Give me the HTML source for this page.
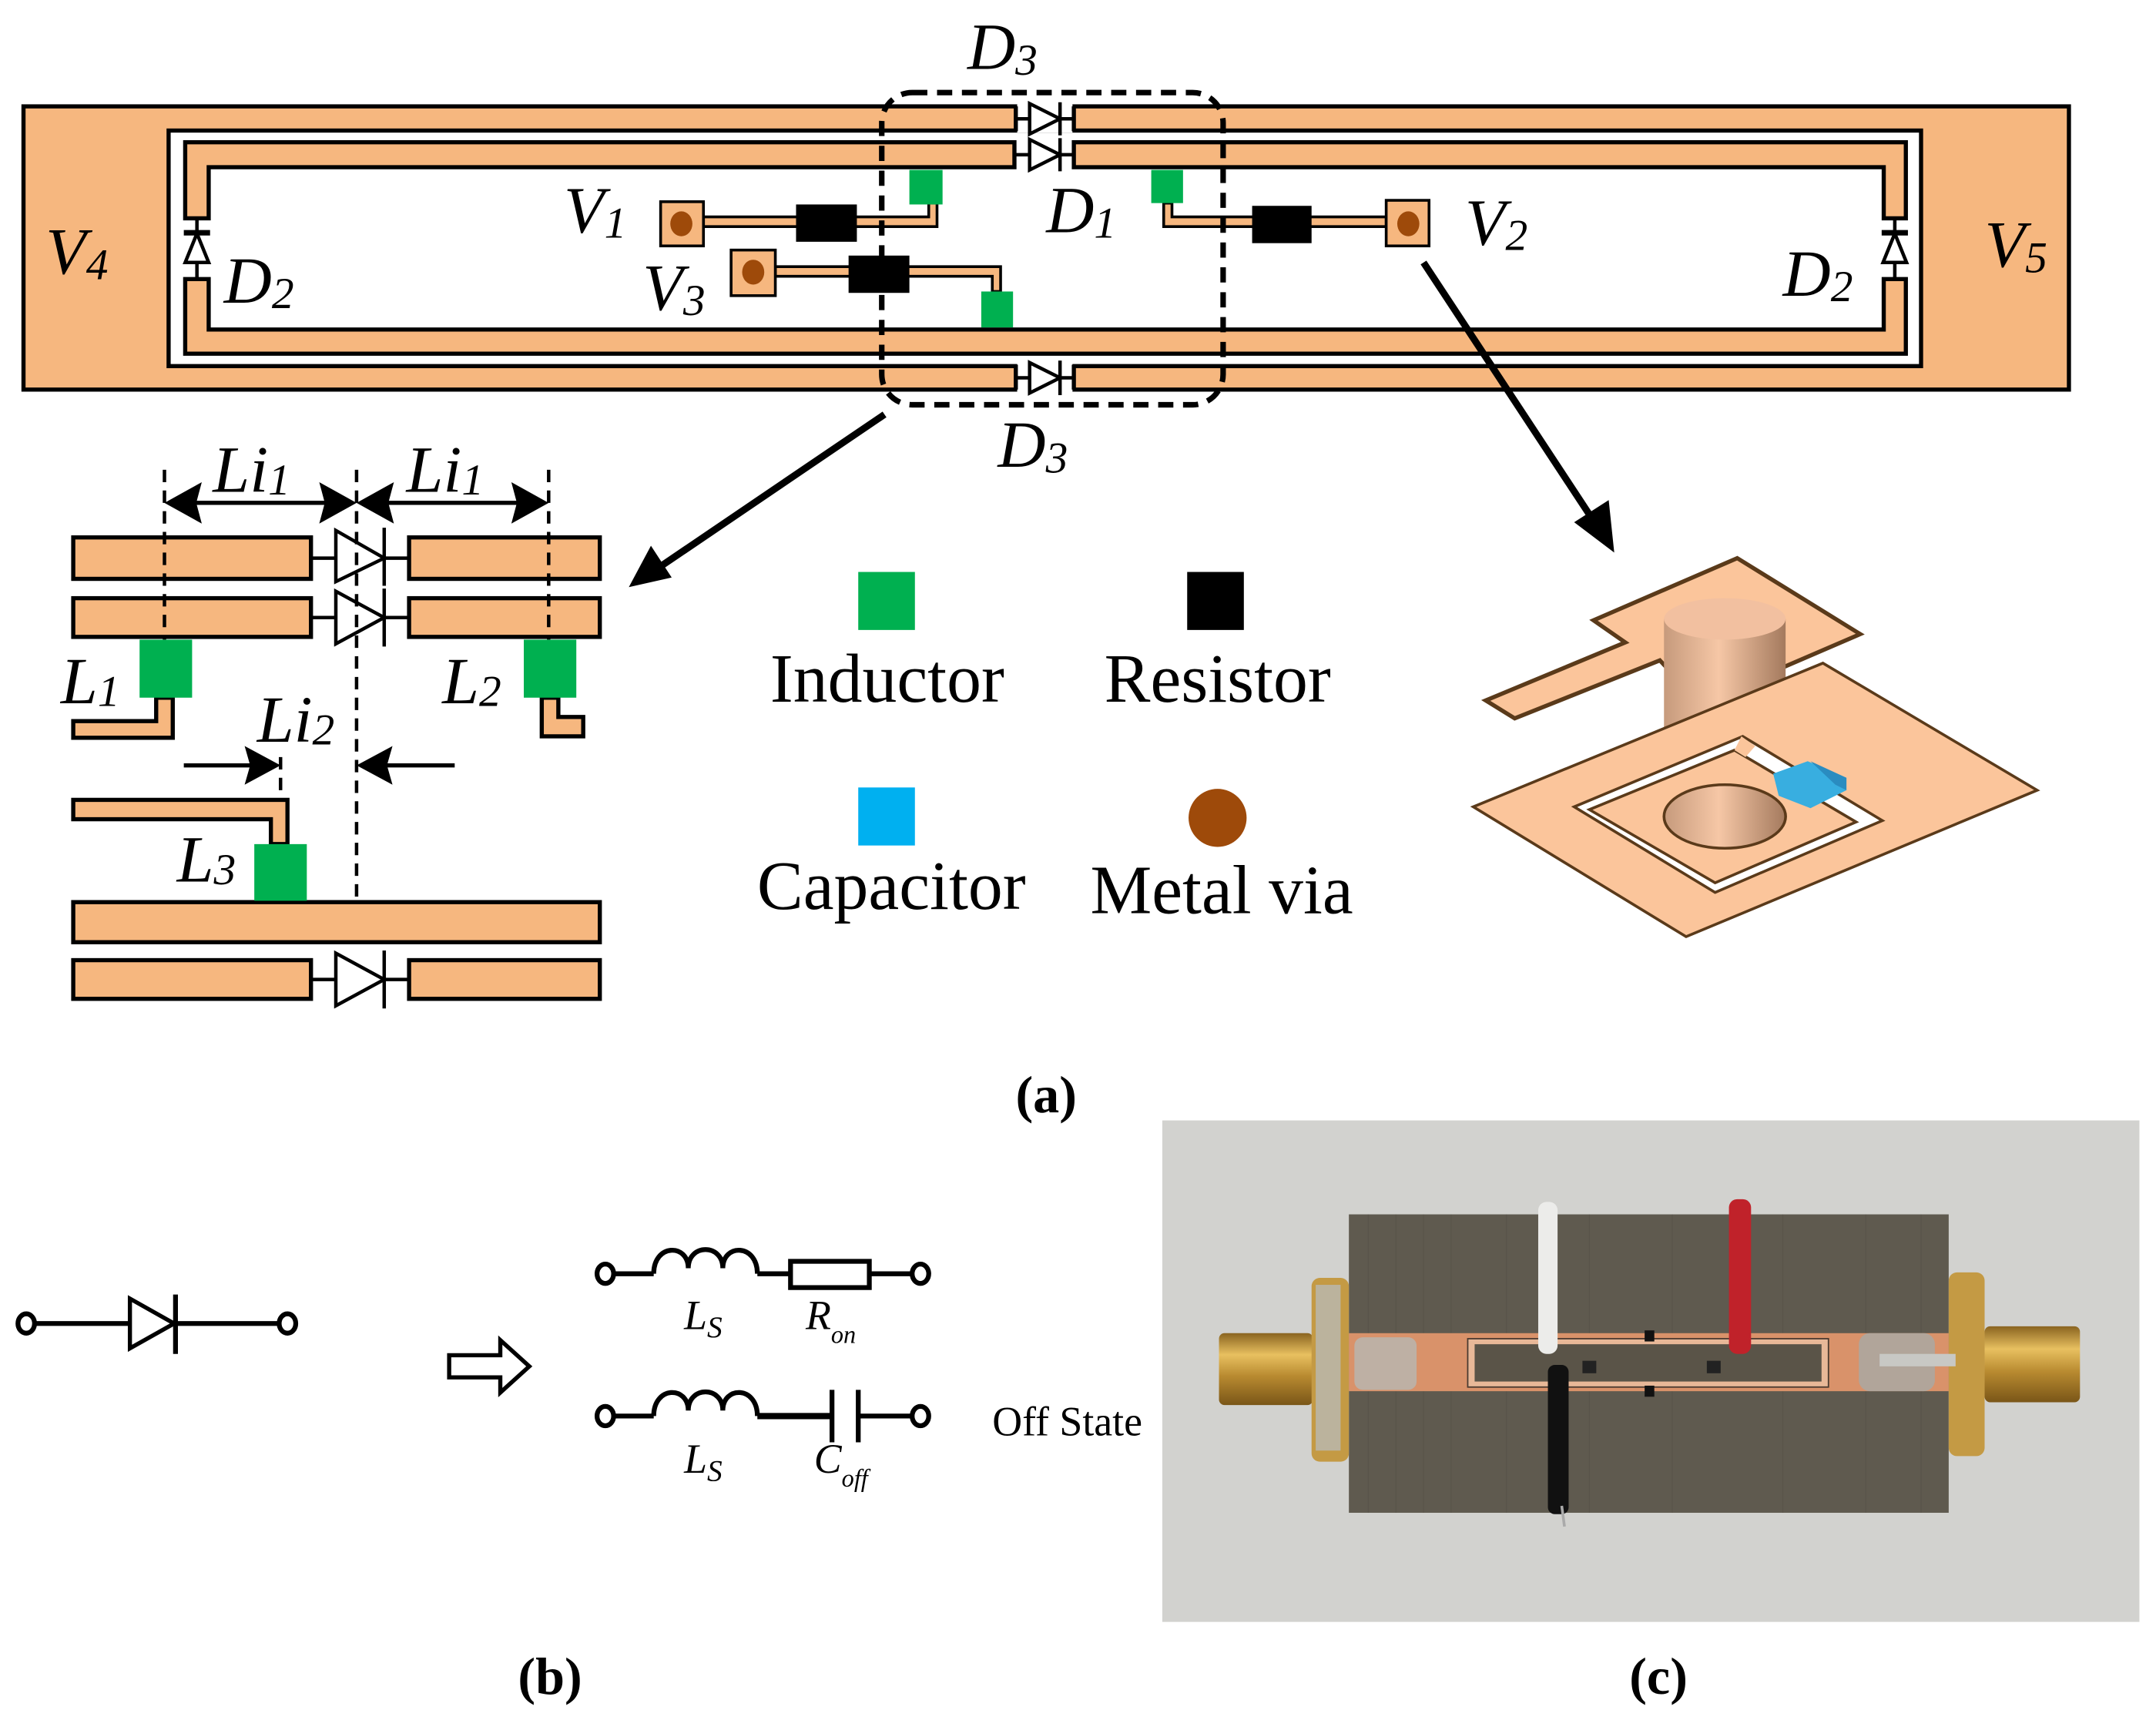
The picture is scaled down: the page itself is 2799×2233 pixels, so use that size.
<!DOCTYPE html>
<html><head><meta charset="utf-8"><style>
html,body{margin:0;padding:0;background:#fff;}
svg{display:block;}
text{font-family:"Liberation Serif","Times New Roman",serif;}
.it{font-style:italic;}
</style></head><body>
<svg width="2799" height="2233" viewBox="0 0 1560 1245" preserveAspectRatio="none" xmlns="http://www.w3.org/2000/svg" font-family="Liberation Serif, Times New Roman, serif">
<defs>
<linearGradient id="cyl" x1="0" x2="1" y1="0" y2="0">
<stop offset="0" stop-color="#c69a7c"/><stop offset="0.45" stop-color="#f6c7a6"/><stop offset="1" stop-color="#a47a5e"/>
</linearGradient>
<linearGradient id="gold" x1="0" x2="0" y1="0" y2="1">
<stop offset="0" stop-color="#8a6420"/><stop offset="0.3" stop-color="#e8c060"/><stop offset="0.6" stop-color="#b88a30"/><stop offset="1" stop-color="#7a5618"/>
</linearGradient>
</defs>

<!-- ===== TOP BOARD ===== -->
<g stroke="#000" stroke-width="3">
<rect x="17" y="77" width="1480" height="205" fill="#F6B77F"/>
<rect x="122" y="94.5" width="1268" height="170.5" fill="#fff"/>
</g>
<rect x="736" y="74" width="40" height="22" fill="#fff"/>
<rect x="736" y="263" width="40" height="22" fill="#fff"/>
<g stroke="#000" stroke-width="3">
<line x1="735" y1="77" x2="735" y2="95"/><line x1="777" y1="77" x2="777" y2="95"/>
<line x1="735" y1="264" x2="735" y2="282"/><line x1="777" y1="264" x2="777" y2="282"/>
</g>
<g stroke="#000" stroke-width="3" fill="#F6B77F">
<polygon points="734,103 134,103 134,158 151,158 151,121 734,121"/>
<polygon points="777,103 1379,103 1379,158 1363,158 1363,121 777,121"/>
<polygon points="134,202 151,202 151,238.5 1363,238.5 1363,202 1379,202 1379,256 134,256"/>
</g>
<g stroke="#000" stroke-width="2.5" fill="#fff">
<line x1="142.5" y1="158" x2="142.5" y2="202"/>
<line x1="133" y1="168.5" x2="152" y2="168.5" stroke-width="4"/>
<polygon points="142.5,169 134,190 151,190"/>
<line x1="1371" y1="158" x2="1371" y2="202"/>
<line x1="1361.5" y1="168.5" x2="1380.5" y2="168.5" stroke-width="4"/>
<polygon points="1371,169 1362.5,190 1379.5,190"/>
</g>
<g stroke="#000" stroke-width="2.5" fill="#fff">
<line x1="735" y1="86" x2="777" y2="86"/><polygon points="745,75 745,97 767,86"/><line x1="767" y1="74" x2="767" y2="98"/>
<line x1="735" y1="112" x2="777" y2="112"/><polygon points="745,101 745,123 767,112"/><line x1="767" y1="100" x2="767" y2="124"/>
<line x1="735" y1="273.5" x2="777" y2="273.5"/><polygon points="745,262.5 745,284.5 767,273.5"/><line x1="767" y1="261" x2="767" y2="286"/>
</g>
<g stroke="#000" stroke-width="2" fill="#F6B77F">
<polygon points="509,157 672,157 672,147 678,147 678,164 509,164"/>
<polygon points="561,193 724,193 724,211 718,211 718,200 561,200"/>
<polygon points="842,147 848,147 848,157 1003,157 1003,164 842,164"/>
<rect x="478" y="146" width="31" height="32"/>
<rect x="529" y="181" width="32" height="33"/>
<rect x="1003" y="145" width="31" height="33"/>
</g>
<g fill="#9E4A0A">
<ellipse cx="493" cy="162" rx="8" ry="9"/>
<ellipse cx="545" cy="197" rx="8" ry="9"/>
<ellipse cx="1019" cy="162" rx="8" ry="9"/>
</g>
<g fill="#000">
<rect x="576" y="148" width="44" height="27"/>
<rect x="614" y="185" width="44" height="27"/>
<rect x="906" y="149" width="43" height="27"/>
</g>
<g fill="#00B050">
<rect x="658" y="123" width="24" height="25"/>
<rect x="833" y="123" width="23" height="24"/>
<rect x="710" y="211" width="23" height="26"/>
</g>
<rect x="638" y="67" width="247" height="226" rx="22" ry="22" fill="none" stroke="#000" stroke-width="4" stroke-dasharray="11 7"/>

<g class="it" font-size="48" font-style="italic">
<text x="700" y="50">D<tspan font-size="32" dy="4">3</tspan></text>
<text x="722" y="338">D<tspan font-size="32" dy="4">3</tspan></text>
<text x="757" y="168">D<tspan font-size="32" dy="4">1</tspan></text>
<text x="162" y="219">D<tspan font-size="32" dy="4">2</tspan></text>
<text x="1290" y="214">D<tspan font-size="32" dy="4">2</tspan></text>
<text x="408" y="168">V<tspan font-size="32" dy="4">1</tspan></text>
<text x="1060" y="177">V<tspan font-size="32" dy="4">2</tspan></text>
<text x="465" y="224">V<tspan font-size="32" dy="4">3</tspan></text>
<text x="33" y="198">V<tspan font-size="32" dy="4">4</tspan></text>
<text x="1436" y="193">V<tspan font-size="32" dy="4">5</tspan></text>
</g>

<g stroke="#000" stroke-width="5">
<line x1="1030" y1="190" x2="1155" y2="380"/>
<line x1="640" y1="300" x2="475" y2="412"/>
</g>
<polygon points="1168,400 1139,378 1164,362" fill="#000"/>
<polygon points="455,425 471,395 486,418" fill="#000"/>

<!-- ===== ZOOM DETAIL ===== -->
<g stroke="#000" stroke-width="3" fill="#F6B77F">
<rect x="53" y="389" width="172" height="30"/>
<rect x="296" y="389" width="138" height="30"/>
<rect x="53" y="433" width="172" height="28"/>
<rect x="296" y="433" width="138" height="28"/>
<polygon points="113,505 125,505 125,534 53,534 53,522 113,522"/>
<polygon points="392,505 404,505 404,519 422,519 422,533 392,533"/>
<polygon points="53,579 208,579 208,611 196,611 196,593 53,593"/>
<rect x="53" y="653" width="381" height="29"/>
<rect x="53" y="695" width="172" height="28"/>
<rect x="296" y="695" width="138" height="28"/>
</g>
<g stroke="#000" stroke-width="2.5" fill="#fff">
<line x1="225" y1="404" x2="296" y2="404"/><polygon points="243,384 243,421 278,404"/><line x1="278" y1="382" x2="278" y2="424"/>
<line x1="225" y1="447" x2="296" y2="447"/><polygon points="243,428 243,466 278,447"/><line x1="278" y1="426" x2="278" y2="468"/>
<line x1="225" y1="709" x2="296" y2="709"/><polygon points="243,690 243,728 278,709"/><line x1="278" y1="688" x2="278" y2="730"/>
</g>
<g fill="#00B050">
<rect x="101" y="463" width="38" height="42"/>
<rect x="379" y="463" width="38" height="42"/>
<rect x="184" y="611" width="38" height="41"/>
</g>
<g stroke="#000" stroke-width="2.5" stroke-dasharray="9 6" fill="none">
<line x1="119" y1="340" x2="119" y2="463"/>
<line x1="258" y1="340" x2="258" y2="652"/>
<line x1="397" y1="340" x2="397" y2="463"/>
<line x1="203" y1="548" x2="203" y2="579"/>
</g>
<g stroke="#000" stroke-width="3">
<line x1="130" y1="364" x2="247" y2="364"/>
<line x1="270" y1="364" x2="386" y2="364"/>
<line x1="133" y1="554" x2="195" y2="554"/>
<line x1="268" y1="554" x2="329" y2="554"/>
</g>
<g fill="#000">
<polygon points="119,364 146,349 142,364 146,379"/>
<polygon points="258,364 231,349 235,364 231,379"/>
<polygon points="258,364 285,349 281,364 285,379"/>
<polygon points="397,364 370,349 374,364 370,379"/>
<polygon points="203,554 177,540 181,554 177,568"/>
<polygon points="258,554 284,540 280,554 284,568"/>
</g>
<g class="it" font-size="48" font-style="italic">
<text x="154" y="356">Li<tspan font-size="32" dy="2">1</tspan></text>
<text x="294" y="356">Li<tspan font-size="32" dy="2">1</tspan></text>
<text x="186" y="537">Li<tspan font-size="32" dy="2">2</tspan></text>
<text x="44" y="509">L<tspan font-size="32" dy="2">1</tspan></text>
<text x="320" y="509">L<tspan font-size="32" dy="2">2</tspan></text>
<text x="128" y="638">L<tspan font-size="32" dy="2">3</tspan></text>
</g>

<!-- ===== LEGEND ===== -->
<rect x="621" y="414" width="41" height="42" fill="#00B050"/>
<rect x="859" y="414" width="41" height="42" fill="#000"/>
<rect x="621" y="570" width="41" height="42" fill="#00B0F0"/>
<circle cx="881" cy="592" r="21" fill="#9E4A0A"/>
<g font-size="50" text-anchor="middle">
<text x="642" y="508">Inductor</text>
<text x="881" y="508">Resistor</text>
<text x="645" y="658">Capacitor</text>
<text x="884" y="661">Metal via</text>
</g>

<!-- ===== 3D VIA ===== -->
<g stroke="#5a3a1a" stroke-width="2">
<polygon points="1257,404 1346,459 1230,509 1201,478 1096,520 1075,507 1176,465 1153,449" fill="#FBC59B" stroke-width="3"/>
<rect x="1204" y="448" width="88" height="120" fill="url(#cyl)" stroke="none"/>
<ellipse cx="1248" cy="448" rx="44" ry="15" fill="#f2c0a0" stroke="none"/>
<polygon points="1319,480 1474,572 1220,678 1066,584" fill="#FBC59B"/>
<polygon points="1261,533 1362,594 1241,646 1139,584" fill="#fff"/>
<polygon points="1255,543 1343,595 1241,639 1150,586" fill="#FBC59B"/>
<polygon points="1260,533 1270,540 1263,548 1255,543" fill="#FBC59B" stroke="none"/>
<ellipse cx="1248" cy="591" rx="44" ry="23" fill="url(#cyl)"/>
</g>
<polygon points="1283,560 1308,551 1336,563 1336,572 1310,585 1287,576" fill="#38AEE0"/>
<polygon points="1310,551 1336,563 1336,572 1328,568" fill="#2a8cc0"/>

<text x="757" y="805" font-size="38" text-anchor="middle" font-weight="bold">(a)</text>

<!-- ===== (b) circuit ===== -->
<g stroke="#000" stroke-width="3.5" fill="#fff">
<line x1="25" y1="958" x2="203" y2="958"/>
<polygon points="94,940 94,976 126,958" stroke-width="3"/>
<line x1="127" y1="937" x2="127" y2="980"/>
<ellipse cx="19" cy="958" rx="6" ry="7"/>
<ellipse cx="208" cy="958" rx="6" ry="7"/>
<polygon points="325,981 362,981 362,970 383,989 362,1008 362,997 325,997" stroke-width="3"/>
<line x1="443" y1="922" x2="473" y2="922"/>
<path d="M473,922 C473,900 498,900 498,918 C498,900 523,900 523,918 C523,900 548,900 548,922" fill="none"/>
<line x1="548" y1="922" x2="572" y2="922"/>
<rect x="572" y="913" width="57" height="19"/>
<line x1="629" y1="922" x2="660" y2="922"/>
<ellipse cx="438" cy="922" rx="6" ry="7"/>
<ellipse cx="666" cy="922" rx="6" ry="7"/>
<line x1="443" y1="1025" x2="473" y2="1025"/>
<path d="M473,1025 C473,1003 498,1003 498,1021 C498,1003 523,1003 523,1021 C523,1003 548,1003 548,1025" fill="none"/>
<line x1="548" y1="1025" x2="602" y2="1025" stroke-width="4.5"/>
<line x1="602" y1="1006" x2="602" y2="1044"/>
<line x1="621" y1="1006" x2="621" y2="1044"/>
<line x1="621" y1="1025" x2="660" y2="1025"/>
<ellipse cx="438" cy="1025" rx="6" ry="7"/>
<ellipse cx="666" cy="1025" rx="6" ry="7"/>
</g>
<g class="it" font-size="30" font-style="italic">
<text x="495" y="962">L<tspan font-size="22" dy="6">S</tspan></text>
<text x="583" y="962">R<tspan font-size="18" dy="10">on</tspan></text>
<text x="495" y="1066">L<tspan font-size="22" dy="6">S</tspan></text>
<text x="589" y="1066">C<tspan font-size="18" dy="10">off</tspan></text>
</g>
<text x="718" y="1039" font-size="30">Off State</text>
<text x="398" y="1226" font-size="38" text-anchor="middle" font-weight="bold">(b)</text>

<!-- ===== (c) photo ===== -->
<rect x="841" y="811" width="707" height="363" fill="#d2d2cf"/>
<rect x="976" y="879" width="434" height="216" fill="#5f5a4f"/>
<g stroke="#555046" stroke-width="0.6" opacity="0.6">
<line x1="990" y1="879" x2="990" y2="1095"/><line x1="1010" y1="879" x2="1010" y2="1095"/><line x1="1030" y1="879" x2="1030" y2="1095"/><line x1="1050" y1="879" x2="1050" y2="1095"/><line x1="1090" y1="879" x2="1090" y2="1095"/><line x1="1150" y1="879" x2="1150" y2="1095"/><line x1="1210" y1="879" x2="1210" y2="1095"/><line x1="1290" y1="879" x2="1290" y2="1095"/><line x1="1350" y1="879" x2="1350" y2="1095"/><line x1="1390" y1="879" x2="1390" y2="1095"/>
</g>
<rect x="882" y="965" width="68" height="52" fill="url(#gold)" rx="4"/>
<rect x="1436" y="960" width="69" height="55" fill="url(#gold)" rx="4"/>
<rect x="949" y="925" width="27" height="133" fill="#c49a44" rx="6"/>
<rect x="1410" y="921" width="26" height="133" fill="#c49a44" rx="6"/>
<rect x="952" y="930" width="18" height="120" fill="#b9b9b4" opacity="0.8"/>
<rect x="976" y="965" width="434" height="42" fill="#d9926a"/>
<rect x="1062" y="969" width="261" height="35" fill="#e8b898" stroke="#4a3a30" stroke-width="1"/>
<rect x="1067" y="973" width="251" height="27" fill="#5a5448"/>
<rect x="980" y="968" width="45" height="38" fill="#b8b5ae" opacity="0.85" rx="6"/>
<rect x="1345" y="965" width="55" height="42" fill="#a9a8a2" opacity="0.85" rx="8"/>
<rect x="1360" y="980" width="55" height="9" fill="#c8c8c4"/>
<rect x="1113" y="870" width="14" height="110" fill="#ececea" rx="6"/>
<rect x="1251" y="868" width="16" height="112" fill="#c0222a" rx="6"/>
<rect x="1120" y="988" width="15" height="108" fill="#111" rx="5"/>
<line x1="1130" y1="1090" x2="1132" y2="1105" stroke="#aaa" stroke-width="2"/>
<rect x="1190" y="963" width="7" height="8" fill="#111"/>
<rect x="1190" y="1003" width="7" height="8" fill="#111"/>
<rect x="1145" y="985" width="10" height="9" fill="#222"/>
<rect x="1235" y="985" width="10" height="9" fill="#222"/>
<text x="1200" y="1226" font-size="38" text-anchor="middle" font-weight="bold">(c)</text>
</svg>
</body></html>
